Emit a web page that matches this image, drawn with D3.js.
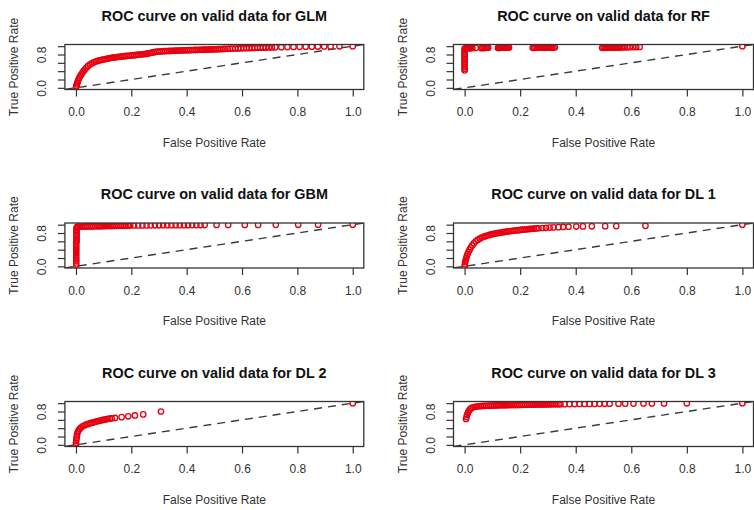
<!DOCTYPE html>
<html>
<head>
<meta charset="utf-8">
<script src="https://cdn.jsdelivr.net/npm/d3@7"></script>
<style>
  body { margin: 0; background: #fff; }
  svg { display: block; }
  text { font-family: "Liberation Sans", Arial, Helvetica, sans-serif; }
</style>
</head>
<body>
<svg id="chart" width="754" height="510"></svg>
<script>
// ROC points (false positive rate, true positive rate) on the validation set, per model
const glmRoc = [[0,0],[0.001,0.04],[0.003,0.08],[0.005,0.12],[0.007,0.16],[0.009,0.2],[0.012,0.24],[0.015,0.28],[0.019,0.32],[0.023,0.36],[0.027,0.4],[0.032,0.44],[0.037,0.48],[0.043,0.52],[0.05,0.555],[0.057,0.585],[0.064,0.61],[0.071,0.63],[0.078,0.645],[0.085,0.66],[0.092,0.67],[0.099,0.68],[0.106,0.69],[0.113,0.7],[0.12,0.71],[0.127,0.72],[0.134,0.725],[0.141,0.73],[0.148,0.74],[0.155,0.745],[0.162,0.75],[0.169,0.755],[0.176,0.76],[0.183,0.765],[0.19,0.77],[0.197,0.775],[0.204,0.78],[0.211,0.785],[0.218,0.79],[0.225,0.795],[0.232,0.8],[0.239,0.805],[0.246,0.81],[0.253,0.815],[0.26,0.825],[0.267,0.835],[0.274,0.845],[0.281,0.855],[0.288,0.862],[0.295,0.868],[0.302,0.872],[0.309,0.876],[0.316,0.879],[0.323,0.882],[0.33,0.884],[0.337,0.886],[0.344,0.888],[0.351,0.89],[0.358,0.892],[0.365,0.894],[0.372,0.896],[0.379,0.898],[0.386,0.9],[0.393,0.901],[0.4,0.902],[0.407,0.904],[0.414,0.906],[0.421,0.908],[0.428,0.909],[0.435,0.91],[0.442,0.912],[0.449,0.914],[0.456,0.915],[0.463,0.916],[0.47,0.918],[0.477,0.92],[0.484,0.921],[0.491,0.922],[0.498,0.924],[0.505,0.926],[0.512,0.928],[0.519,0.93],[0.526,0.932],[0.533,0.934],[0.54,0.936],[0.548,0.938],[0.556,0.94],[0.566,0.942],[0.576,0.944],[0.586,0.946],[0.596,0.948],[0.606,0.95],[0.616,0.952],[0.626,0.954],[0.636,0.956],[0.646,0.958],[0.656,0.96],[0.666,0.962],[0.676,0.964],[0.686,0.966],[0.697,0.968],[0.708,0.97],[0.72,0.972],[0.742,0.975],[0.764,0.978],[0.786,0.981],[0.808,0.984],[0.83,0.987],[0.852,0.989],[0.874,0.991],[0.897,0.993],[0.92,0.995],[0.952,0.997],[1,1]];

const rfRoc = [[0,0.42],[0,0.46],[0,0.5],[0,0.54],[0,0.58],[0,0.62],[0,0.66],[0,0.7],[0,0.74],[0,0.78],[0,0.82],[0,0.86],[0,0.9],[0,0.94],[0.004,0.95],[0.008,0.952],[0.012,0.952],[0.016,0.954],[0.02,0.954],[0.024,0.955],[0.028,0.956],[0.04,0.958],[0.06,0.955],[0.064,0.957],[0.068,0.958],[0.072,0.96],[0.076,0.96],[0.08,0.962],[0.085,0.963],[0.12,0.958],[0.124,0.96],[0.128,0.96],[0.132,0.962],[0.136,0.962],[0.14,0.963],[0.144,0.964],[0.148,0.965],[0.152,0.965],[0.156,0.966],[0.16,0.967],[0.245,0.96],[0.25,0.96],[0.255,0.962],[0.26,0.962],[0.265,0.963],[0.27,0.964],[0.275,0.965],[0.28,0.965],[0.285,0.966],[0.29,0.967],[0.295,0.968],[0.3,0.968],[0.305,0.969],[0.31,0.97],[0.315,0.97],[0.32,0.971],[0.325,0.972],[0.495,0.962],[0.5,0.963],[0.505,0.964],[0.51,0.965],[0.515,0.966],[0.52,0.967],[0.525,0.968],[0.53,0.968],[0.535,0.969],[0.54,0.97],[0.545,0.97],[0.55,0.971],[0.555,0.972],[0.56,0.972],[0.566,0.973],[0.572,0.974],[0.578,0.975],[0.586,0.976],[0.595,0.977],[0.607,0.978],[0.618,0.979],[0.63,0.98],[1,1]];

const gbmRoc = [[0.001,0.02],[0.001,0.07],[0.001,0.12],[0.001,0.17],[0.001,0.22],[0.001,0.27],[0.001,0.32],[0.001,0.37],[0.001,0.42],[0.001,0.47],[0.001,0.52],[0.001,0.57],[0.002,0.6],[0.002,0.64],[0.002,0.68],[0.002,0.72],[0.002,0.76],[0.002,0.8],[0.002,0.84],[0.002,0.88],[0.002,0.92],[0.004,0.95],[0.008,0.952],[0.014,0.954],[0.021,0.955],[0.028,0.956],[0.035,0.957],[0.042,0.958],[0.049,0.959],[0.056,0.96],[0.063,0.961],[0.07,0.962],[0.077,0.963],[0.084,0.964],[0.091,0.965],[0.098,0.966],[0.105,0.967],[0.112,0.968],[0.119,0.969],[0.126,0.97],[0.133,0.971],[0.14,0.972],[0.147,0.973],[0.154,0.974],[0.161,0.975],[0.168,0.976],[0.175,0.977],[0.182,0.978],[0.189,0.979],[0.196,0.98],[0.21,0.981],[0.225,0.982],[0.24,0.983],[0.255,0.983],[0.27,0.984],[0.285,0.985],[0.3,0.985],[0.315,0.986],[0.33,0.987],[0.345,0.987],[0.36,0.988],[0.375,0.988],[0.39,0.989],[0.405,0.989],[0.42,0.99],[0.435,0.99],[0.45,0.991],[0.465,0.991],[0.508,0.992],[0.55,0.993],[0.61,0.994],[0.658,0.995],[0.722,0.996],[0.803,0.997],[0.875,0.998],[1,1]];

const dl1Roc = [[0,0],[0.001,0.05],[0.002,0.1],[0.004,0.15],[0.006,0.2],[0.008,0.25],[0.011,0.3],[0.014,0.35],[0.018,0.4],[0.022,0.45],[0.027,0.5],[0.033,0.55],[0.04,0.6],[0.047,0.635],[0.054,0.665],[0.061,0.69],[0.068,0.71],[0.075,0.725],[0.082,0.74],[0.089,0.755],[0.096,0.767],[0.103,0.778],[0.11,0.788],[0.117,0.797],[0.124,0.805],[0.131,0.812],[0.138,0.82],[0.145,0.827],[0.152,0.834],[0.159,0.84],[0.166,0.846],[0.173,0.852],[0.18,0.858],[0.187,0.864],[0.194,0.869],[0.201,0.874],[0.208,0.879],[0.215,0.884],[0.222,0.889],[0.229,0.894],[0.236,0.898],[0.243,0.902],[0.25,0.906],[0.258,0.91],[0.266,0.914],[0.28,0.92],[0.293,0.925],[0.306,0.93],[0.32,0.935],[0.338,0.94],[0.355,0.945],[0.374,0.95],[0.402,0.955],[0.426,0.958],[0.458,0.961],[0.506,0.964],[0.546,0.966],[0.651,0.972],[1,1]];

const dl2Roc = [[0,0],[0,0.05],[0.001,0.1],[0.002,0.15],[0.003,0.2],[0.004,0.25],[0.006,0.3],[0.009,0.34],[0.013,0.38],[0.018,0.415],[0.024,0.445],[0.031,0.47],[0.038,0.49],[0.045,0.505],[0.052,0.52],[0.059,0.533],[0.066,0.546],[0.073,0.558],[0.08,0.57],[0.087,0.582],[0.094,0.593],[0.101,0.603],[0.108,0.613],[0.115,0.622],[0.122,0.631],[0.129,0.638],[0.141,0.645],[0.165,0.665],[0.189,0.685],[0.213,0.705],[0.243,0.73],[0.307,0.8],[1,1]];

const dl3Roc = [[0.005,0.62],[0.007,0.67],[0.009,0.72],[0.012,0.77],[0.015,0.81],[0.019,0.85],[0.024,0.88],[0.03,0.9],[0.037,0.912],[0.044,0.92],[0.051,0.926],[0.058,0.93],[0.065,0.933],[0.072,0.936],[0.079,0.938],[0.086,0.94],[0.093,0.942],[0.1,0.944],[0.107,0.946],[0.114,0.947],[0.121,0.948],[0.128,0.95],[0.135,0.951],[0.142,0.952],[0.149,0.953],[0.156,0.954],[0.163,0.955],[0.17,0.956],[0.177,0.957],[0.184,0.958],[0.191,0.959],[0.198,0.96],[0.205,0.961],[0.212,0.962],[0.219,0.963],[0.226,0.964],[0.233,0.965],[0.24,0.966],[0.247,0.967],[0.254,0.967],[0.261,0.968],[0.268,0.969],[0.275,0.97],[0.282,0.97],[0.289,0.971],[0.296,0.972],[0.303,0.972],[0.31,0.973],[0.317,0.974],[0.324,0.974],[0.331,0.975],[0.338,0.976],[0.345,0.976],[0.36,0.977],[0.378,0.978],[0.396,0.979],[0.414,0.98],[0.432,0.981],[0.45,0.982],[0.468,0.983],[0.486,0.984],[0.504,0.985],[0.522,0.986],[0.554,0.988],[0.578,0.989],[0.608,0.99],[0.644,0.992],[0.674,0.993],[0.718,0.995],[0.8,0.997],[1,1]];

const modelNames = ["GLM", "RF", "GBM", "DL 1", "DL 2", "DL 3"];
const modelRocs = [glmRoc, rfRoc, gbmRoc, dl1Roc, dl2Roc, dl3Roc];
const titlePrefix = "ROC curve on valid data for ";
const xAxisTitle = "False Positive Rate";
const yAxisTitle = "True Positive Rate";
const xTickValues = [0, 0.2, 0.4, 0.6, 0.8, 1.0];
const yTickValues = [0, 0.2, 0.4, 0.6, 0.8, 1.0];
const yLabelledTicks = [0, 0.8];
const axisDomain = [-0.04, 1.04];

// panel grid: 3 rows x 2 columns
const colBox = [[64.9, 363.8], [453.5, 753.5]];
const rowTop = [44.5, 223, 401.5];
const boxH = 45;

const pointColor = "#e60010";
const inkColor = "#333";
const fmt = d3.format(".1f");

const svg = d3.select("#chart");

modelNames.forEach((name, i) => {
  const col = i % 2, row = Math.floor(i / 2);
  const [left, right] = colBox[col];
  const top = rowTop[row], bottom = top + boxH;

  const x = d3.scaleLinear().domain(axisDomain).range([left, right]);
  const y = d3.scaleLinear().domain(axisDomain).range([bottom, top]);

  const g = svg.append("g");
  const clipId = "clip-" + i;
  g.append("clipPath").attr("id", clipId)
    .append("rect").attr("x", left).attr("y", top)
    .attr("width", right - left).attr("height", boxH);

  const plot = g.append("g").attr("clip-path", `url(#${clipId})`);

  // reference diagonal (random classifier)
  plot.append("line")
    .attr("x1", x(axisDomain[0])).attr("y1", y(axisDomain[0]))
    .attr("x2", x(axisDomain[1])).attr("y2", y(axisDomain[1]))
    .attr("stroke", "#3a3a3a").attr("stroke-width", 1.4)
    .attr("stroke-dasharray", "8,6");

  // ROC points as open circles
  plot.selectAll("circle").data(modelRocs[i]).join("circle")
    .attr("cx", d => x(d[0])).attr("cy", d => y(d[1]))
    .attr("r", 2.7)
    .attr("fill", "none")
    .attr("stroke", pointColor)
    .attr("stroke-width", 1.3);

  // frame
  g.append("rect")
    .attr("x", left).attr("y", top)
    .attr("width", right - left).attr("height", boxH)
    .attr("fill", "none").attr("stroke", inkColor).attr("stroke-width", 1.3);

  // x axis
  const gx = g.append("g").attr("transform", `translate(0,${bottom})`)
    .call(d3.axisBottom(x).tickValues(xTickValues).tickSize(7).tickFormat(fmt));
  gx.select(".domain").remove();
  gx.selectAll(".tick line").attr("stroke", inkColor).attr("stroke-width", 1.2);
  gx.selectAll(".tick text")
    .attr("y", 26.5).attr("dy", null)
    .attr("fill", inkColor).attr("font-size", 12)
    .style("font-family", '"Liberation Sans", Arial, sans-serif');

  // y axis with rotated labels
  const gy = g.append("g").attr("transform", `translate(${left},0)`)
    .call(d3.axisLeft(y).tickValues(yTickValues).tickSize(7)
      .tickFormat(d => yLabelledTicks.includes(d) ? fmt(d) : ""));
  gy.select(".domain").remove();
  gy.selectAll(".tick line").attr("stroke", inkColor).attr("stroke-width", 1.2);
  gy.selectAll(".tick text")
    .attr("x", null).attr("dy", null)
    .attr("transform", "translate(-19,0) rotate(-90)")
    .attr("text-anchor", "middle")
    .attr("fill", inkColor).attr("font-size", 12)
    .style("font-family", '"Liberation Sans", Arial, sans-serif');

  // titles
  g.append("text")
    .attr("x", (left + right) / 2).attr("y", top - 24)
    .attr("text-anchor", "middle")
    .attr("font-size", 14.4).attr("font-weight", "bold").attr("fill", "#111")
    .text(titlePrefix + name);

  g.append("text")
    .attr("x", (left + right) / 2).attr("y", bottom + 57)
    .attr("text-anchor", "middle")
    .attr("font-size", 12).attr("fill", inkColor)
    .text(xAxisTitle);

  g.append("text")
    .attr("transform", `translate(${left - 47},${(top + bottom) / 2}) rotate(-90)`)
    .attr("text-anchor", "middle")
    .attr("font-size", 12).attr("fill", inkColor)
    .text(yAxisTitle);
});
</script>
</body>
</html>
